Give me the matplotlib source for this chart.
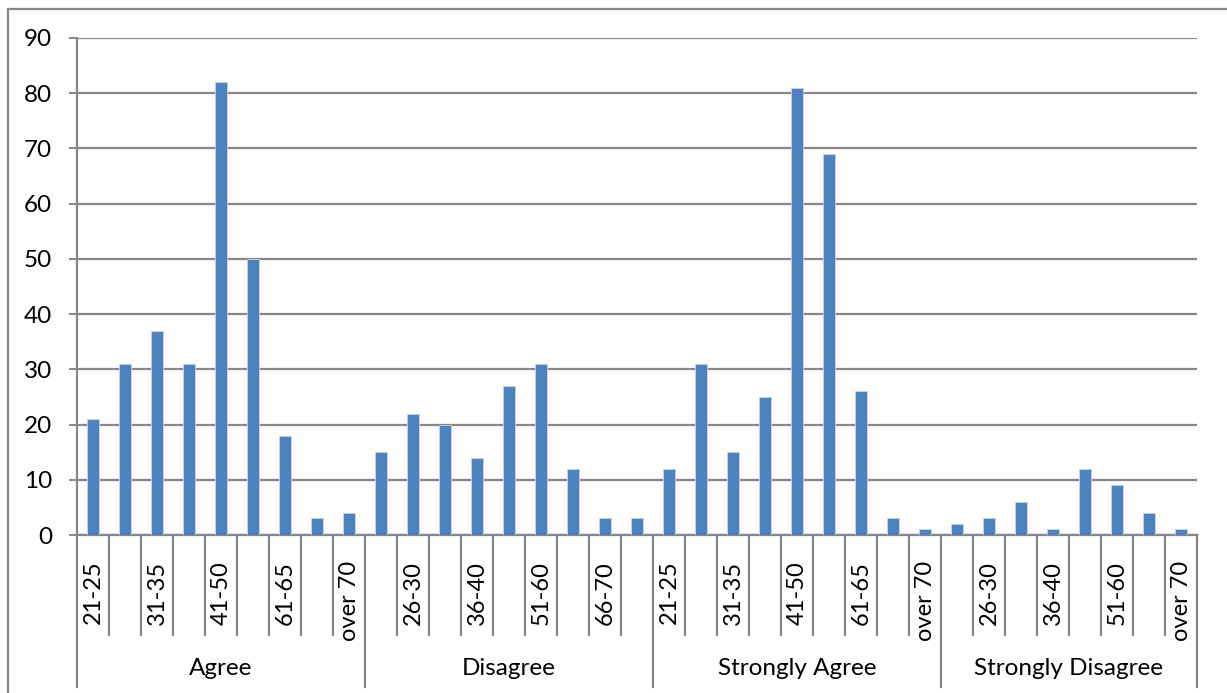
import matplotlib
matplotlib.use("Agg")
import matplotlib.pyplot as plt
import matplotlib.transforms as mtransforms
from matplotlib.patches import Rectangle
import numpy as np

plt.rcParams['font.family'] = ['Lato', 'DejaVu Sans']

# Response groups and the age bands recorded within each
groups = ["Agree", "Disagree", "Strongly Agree", "Strongly Disagree"]
ages_full = ["21-25", "26-30", "31-35", "36-40", "41-50", "51-60", "61-65", "66-70", "over 70"]
ages_sd = ["21-25", "26-30", "31-35", "36-40", "41-50", "51-60", "61-65", "over 70"]

agree = [21, 31, 37, 31, 82, 50, 18, 3, 4]
disagree = [15, 22, 20, 14, 27, 31, 12, 3, 3]
strongly_agree = [12, 31, 15, 25, 81, 69, 26, 3, 1]
strongly_disagree = [2, 3, 6, 1, 12, 9, 4, 1]

group_ages = [ages_full, ages_full, ages_full, ages_sd]
group_values = [agree, disagree, strongly_agree, strongly_disagree]

labels = [a for ages in group_ages for a in ages]
values = [v for vals in group_values for v in vals]
n = len(values)
x = np.arange(n)

GRAY = "#878787"
BLUE = "#4F81BD"

fig = plt.figure(figsize=(12.27, 6.93), dpi=100)
ax = fig.add_axes([77 / 1227, 1 - 535 / 693, 1120 / 1227, 497 / 693])

ax.bar(x, values, width=0.4, color=BLUE, edgecolor="#C6D5EA", linewidth=0.6, zorder=3)

ax.set_xlim(-0.5, n - 0.5)
ax.set_ylim(0, 90)
ax.set_yticks(np.arange(0, 91, 10))
ax.yaxis.grid(True, color=GRAY, linewidth=1.6, zorder=0)
ax.tick_params(axis="y", length=6, width=1.4, color=GRAY, pad=12, labelsize=17.5)
ax.tick_params(axis="x", length=0, labelbottom=False)
ax.set_xticks([])
for side in ("top", "right"):
    ax.spines[side].set_visible(False)
for side in ("left", "bottom"):
    ax.spines[side].set_color(GRAY)
    ax.spines[side].set_linewidth(1.6)

trans = mtransforms.blended_transform_factory(ax.transData, ax.transAxes)

# Multi-level category axis: age bands (every other label) and response groups
start = 0
for gi, (name, ages) in enumerate(zip(groups, group_ages)):
    end = start + len(ages)
    ax.plot([start - 0.5, start - 0.5], [0, -0.306], transform=trans, color=GRAY,
            linewidth=1.6, clip_on=False)
    for k in range(start + 1, end):
        ax.plot([k - 0.5, k - 0.5], [0, -0.201], transform=trans, color=GRAY,
                linewidth=1.6, clip_on=False)
    ax.text((start + end - 1) / 2, -0.268, name, transform=trans, ha="center",
            va="center", fontsize=17.5)
    start = end
ax.plot([n - 0.5, n - 0.5], [0, -0.306], transform=trans, color=GRAY,
        linewidth=1.6, clip_on=False)

for i, lab in enumerate(labels):
    if i % 2 == 0:
        ax.text(i, -0.052, lab, transform=trans, rotation=90, ha="center", va="top",
                fontsize=17)

# Chart frame
fig.patches.append(Rectangle((8 / 1227, -0.1), 1.2, 1.1 - 9 / 693, transform=fig.transFigure,
                             fill=False, edgecolor=GRAY, linewidth=1.6))

fig.savefig("out.png", dpi=100)
